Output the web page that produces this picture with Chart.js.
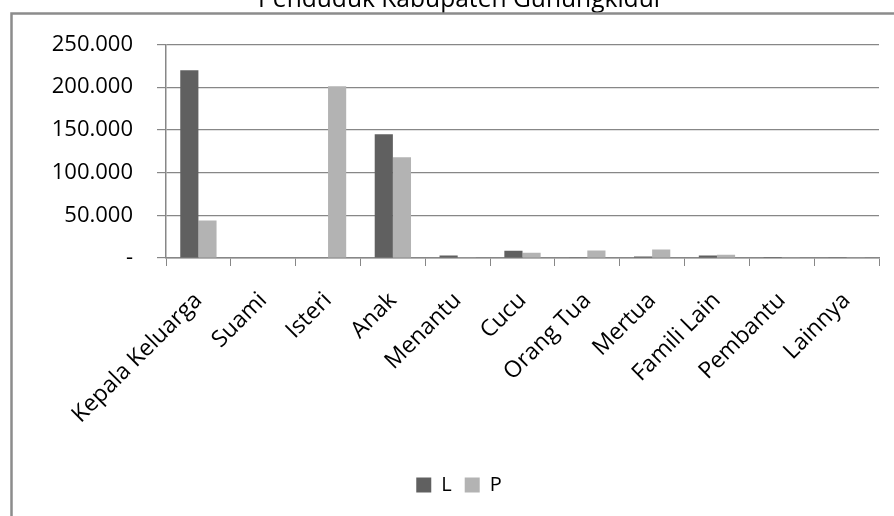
<!DOCTYPE html>
<html>
<head>
<meta charset="utf-8">
<script src="https://cdn.jsdelivr.net/npm/chart.js@4/dist/chart.umd.min.js"></script>
<style>
  html, body { margin: 0; padding: 0; background: #fff; overflow: hidden; width: 894px; height: 516px; }
  #wrap { position: absolute; left: 0; top: -20px; width: 918px; height: 536px; }
  canvas { display: block; }
</style>
</head>
<body>
<div id="wrap"><canvas id="chart" width="918" height="536"></canvas></div>
<script>
// Hubungan dengan kepala keluarga, penduduk menurut jenis kelamin
const categories = ['Kepala Keluarga', 'Suami', 'Isteri', 'Anak', 'Menantu', 'Cucu',
                    'Orang Tua', 'Mertua', 'Famili Lain', 'Pembantu', 'Lainnya'];
const lakiLaki  = [220000, 0, 0, 145000, 3000, 8400, 1000, 1800, 2800, 100, 150];
const perempuan = [44000, 0, 201000, 118000, 1000, 6100, 8800, 9900, 3800, 150, 200];
const seriesNames = ['L', 'P'];
const yTicks = [0, 50000, 100000, 150000, 200000, 250000];
const titleText = 'Penduduk Kabupaten Gunungkidul';

const FONT = 'Open Sans';
const AXIS_GREY = '#878787';

function formatTick(v) {
  if (v === 0) return '-';
  return String(v).replace(/\B(?=(\d{3})+(?!\d))/g, '.');
}

// Outer chart border
const frame = {
  id: 'frame',
  afterDraw(chart) {
    const ctx = chart.ctx;
    ctx.save();
    ctx.strokeStyle = '#8c8c8c';
    ctx.lineWidth = 2.5;
    ctx.strokeRect(11.5, 33.5, 897, 1000);
    ctx.restore();
  }
};

new Chart(document.getElementById('chart'), {
  type: 'bar',
  data: {
    labels: categories,
    datasets: [
      { label: seriesNames[0], data: lakiLaki, backgroundColor: '#606060' },
      { label: seriesNames[1], data: perempuan, backgroundColor: '#b3b3b3' }
    ]
  },
  options: {
    responsive: false,
    maintainAspectRatio: false,
    animation: false,
    devicePixelRatio: 1,
    layout: { padding: { left: 39, right: 39, top: 0, bottom: 11 } },
    datasets: { bar: { categoryPercentage: 0.56, barPercentage: 1.0 } },
    plugins: {
      title: {
        display: true,
        text: titleText,
        color: '#000',
        font: { family: FONT, size: 24.6, weight: 'normal' },
        padding: { top: 5, bottom: 30 }
      },
      legend: {
        position: 'bottom',
        labels: {
          color: '#000',
          font: { family: FONT, size: 20 },
          boxWidth: 15,
          boxHeight: 15,
          padding: 13
        }
      },
      tooltip: { enabled: false }
    },
    scales: {
      x: {
        offset: true,
        grid: {
          offset: true,
          drawOnChartArea: false,
          drawTicks: true,
          tickLength: 8,
          color: AXIS_GREY
        },
        border: { color: AXIS_GREY, width: 1.5 },
        ticks: {
          color: '#000',
          font: { family: FONT, size: 23 },
          minRotation: 45,
          maxRotation: 45,
          autoSkip: false,
          padding: 21
        },
        afterFit(scale) { scale.height = 204; }
      },
      y: {
        min: 0,
        max: 250000,
        afterBuildTicks(scale) { scale.ticks = yTicks.map(v => ({ value: v })); },
        grid: {
          color: AXIS_GREY,
          lineWidth: 1.2,
          drawTicks: true,
          tickLength: 9
        },
        border: { color: AXIS_GREY, width: 1.5 },
        ticks: {
          color: '#000',
          font: { family: FONT, size: 22 },
          padding: 24,
          callback: v => formatTick(v)
        },
        afterFit(scale) { scale.width = 127; }
      }
    }
  },
  plugins: [frame]
});
</script>
</body>
</html>
